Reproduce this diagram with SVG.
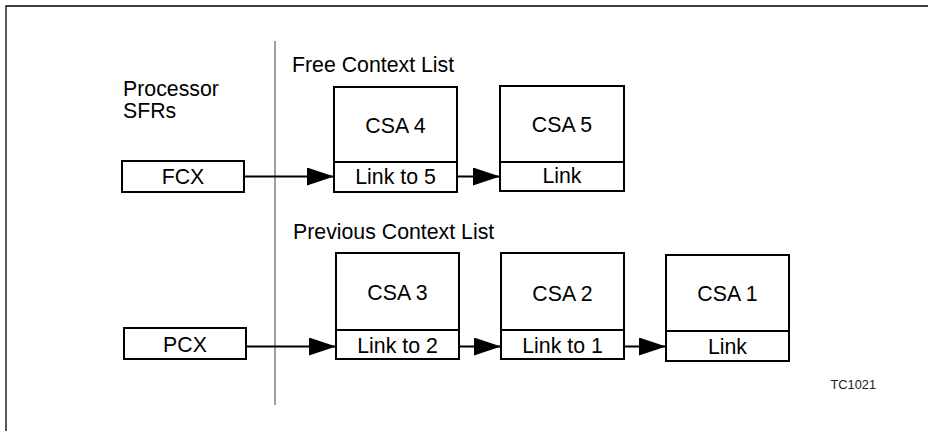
<svg xmlns="http://www.w3.org/2000/svg" width="928" height="431" viewBox="0 0 928 431">
<style>
.box{fill:#fff;stroke:#000;stroke-width:2}
.t{font-family:"Liberation Sans",Arial,sans-serif;font-size:21.3px;fill:#000}
.c{text-anchor:middle}
.con{stroke:#000;stroke-width:2;fill:none}
.frame{stroke:#000;stroke-width:1.3;fill:none}
</style>
<defs>
<marker id="ah" markerUnits="userSpaceOnUse" markerWidth="27" markerHeight="18" refX="27" refY="9" orient="auto" viewBox="0 0 27 18">
<path d="M0,0 L27,9 L0,18 z" fill="#000"/>
</marker>
</defs>
<rect width="928" height="431" fill="#fff"/>
<path class="frame" d="M6,431 V6 H928"/>
<line x1="275" y1="41" x2="275" y2="405" stroke="#7f7f7f" stroke-width="1.5"/>
<text class="t" x="123" y="95.5">Processor</text>
<text class="t" x="123" y="118">SFRs</text>
<text class="t" x="292" y="72">Free Context List</text>
<text class="t" x="293" y="239">Previous Context List</text>
<text class="t" x="830.5" y="389" style="font-size:12.8px;fill:#222">TC1021</text>
<g id="fcx">
<rect class="box" x="122" y="161" width="122" height="31"/>
<text class="t c" x="183" y="184.3">FCX</text>
</g>
<g id="csa4">
<rect class="box" x="334" y="87" width="123" height="105"/>
<line class="con" x1="334" y1="162" x2="457" y2="162"/>
<text class="t c" x="395.5" y="132.5">CSA 4</text>
<text class="t c" x="395.5" y="184">Link to 5</text>
</g>
<g id="csa5">
<rect class="box" x="500" y="86" width="124" height="105"/>
<line class="con" x1="500" y1="162" x2="624" y2="162"/>
<text class="t c" x="562" y="132">CSA 5</text>
<text class="t c" x="562" y="183">Link</text>
</g>
<g id="pcx">
<rect class="box" x="124" y="328" width="122" height="31"/>
<text class="t c" x="185" y="352">PCX</text>
</g>
<g id="csa3">
<rect class="box" x="336" y="253" width="123" height="106"/>
<line class="con" x1="336" y1="330" x2="459" y2="330"/>
<text class="t c" x="397.5" y="300">CSA 3</text>
<text class="t c" x="397.5" y="352.5">Link to 2</text>
</g>
<g id="csa2">
<rect class="box" x="501" y="253" width="123" height="106"/>
<line class="con" x1="501" y1="330" x2="624" y2="330"/>
<text class="t c" x="562.5" y="300.5">CSA 2</text>
<text class="t c" x="562.5" y="352.5">Link to 1</text>
</g>
<g id="csa1">
<rect class="box" x="666" y="255" width="123" height="106"/>
<line class="con" x1="666" y1="331" x2="789" y2="331"/>
<text class="t c" x="727.5" y="301">CSA 1</text>
<text class="t c" x="727.5" y="354">Link</text>
</g>
<g id="connectors">
<line class="con" x1="244" y1="176.5" x2="334" y2="176.5" marker-end="url(#ah)"/>
<line class="con" x1="457" y1="176.5" x2="500" y2="176.5" marker-end="url(#ah)"/>
<line class="con" x1="246" y1="346.5" x2="336" y2="346.5" marker-end="url(#ah)"/>
<line class="con" x1="459" y1="346.5" x2="501" y2="346.5" marker-end="url(#ah)"/>
<line class="con" x1="624" y1="346.5" x2="666" y2="346.5" marker-end="url(#ah)"/>
</g>
</svg>
